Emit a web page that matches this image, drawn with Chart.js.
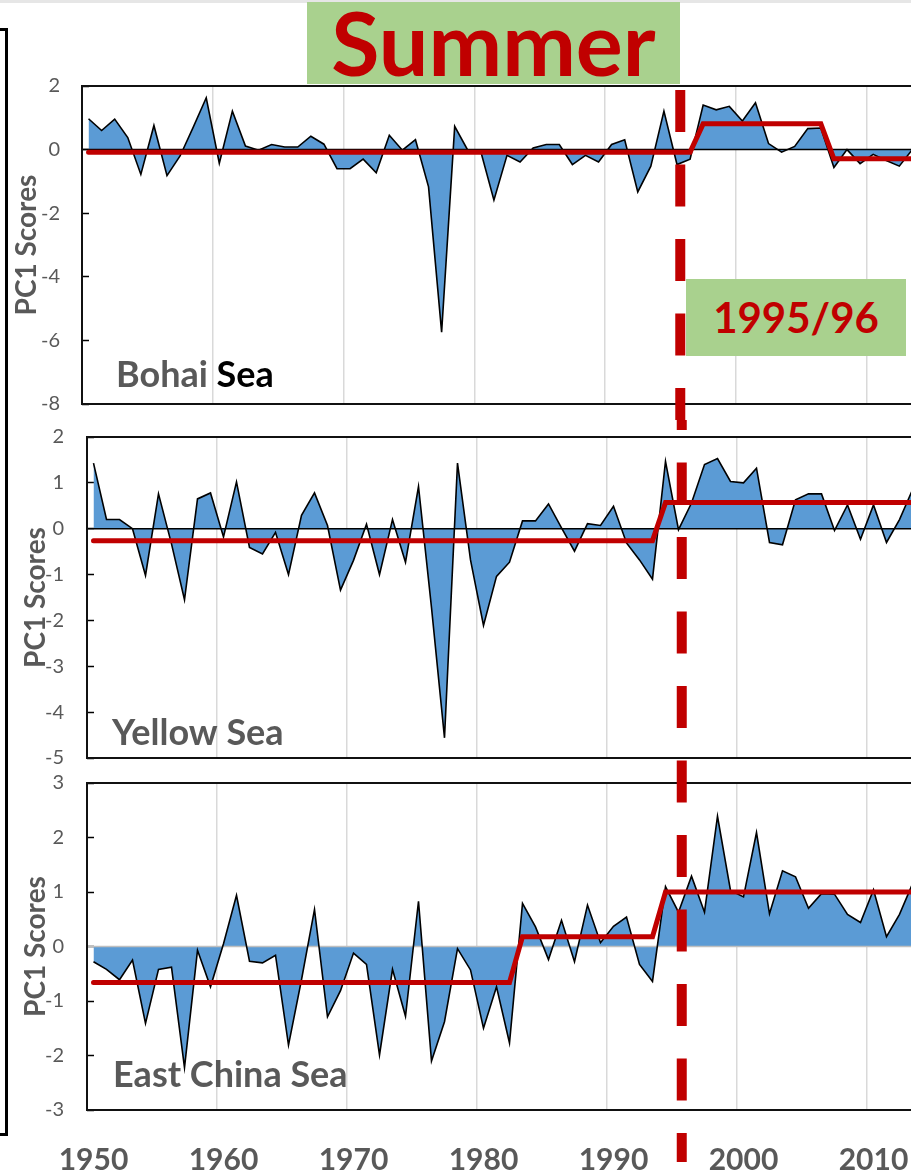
<!DOCTYPE html>
<html>
<head>
<meta charset="utf-8">
<script src="https://cdn.jsdelivr.net/npm/chart.js@4.4.0/dist/chart.umd.min.js"></script>
<style>
  html, body { margin: 0; padding: 0; background: #fff; }
  body { width: 911px; height: 1174px; overflow: hidden; position: relative; font-family: Lato, "Open Sans", sans-serif; }
  canvas { position: absolute; left: 0; }
  .box { position: absolute; background: #a9d18e; color: #c00000; font-weight: bold; text-align: center; white-space: nowrap; }
  #topStrip { position: absolute; left: 0; top: 0; width: 911px; height: 3px; background: #e6e6e6; }
  #edge { position: absolute; left: -4px; top: 28px; width: 6px; height: 1102px; border: 3px solid #000; }
</style>
</head>
<body>
<div id="topStrip"></div>
<canvas id="bohai" width="932" height="420" style="top:0"></canvas>
<canvas id="yellow" width="932" height="350" style="top:420px"></canvas>
<canvas id="eastChina" width="932" height="404" style="top:770px"></canvas>
<div id="edge"></div>
<div class="box" style="left:307px;top:2px;width:373px;height:82px;font-size:88px;line-height:80px;">Summer</div>
<div class="box" style="left:686px;top:279px;width:220px;height:77px;font-size:42px;line-height:77px;">1995/96</div>
<script>
// years of the PC1 time series
const years = [1950, 1951, 1952, 1953, 1954, 1955, 1956, 1957, 1958, 1959,
  1960, 1961, 1962, 1963, 1964, 1965, 1966, 1967, 1968, 1969,
  1970, 1971, 1972, 1973, 1974, 1975, 1976, 1977, 1978, 1979,
  1980, 1981, 1982, 1983, 1984, 1985, 1986, 1987, 1988, 1989,
  1990, 1991, 1992, 1993, 1994, 1995, 1996, 1997, 1998, 1999,
  2000, 2001, 2002, 2003, 2004, 2005, 2006, 2007, 2008, 2009,
  2010, 2011, 2012, 2013];

// PC1 scores (summer)
const bohaiScores = [0.97, 0.60, 0.96, 0.38, -0.78, 0.76, -0.82, -0.20, 0.70, 1.63,
  -0.43, 1.21, 0.11, -0.02, 0.16, 0.08, 0.08, 0.42, 0.17, -0.60,
  -0.60, -0.30, -0.73, 0.45, -0.02, 0.31, -1.17, -5.74, 0.73, -0.02,
  -0.07, -1.59, -0.18, -0.39, 0.05, 0.16, 0.16, -0.47, -0.18, -0.39,
  0.16, 0.31, -1.33, -0.52, 1.21, -0.47, -0.30, 1.40, 1.25, 1.36,
  0.90, 1.47, 0.19, -0.08, 0.10, 0.66, 0.68, -0.56, 0.00, -0.44,
  -0.15, -0.34, -0.52, 0.00];
const yellowScores = [1.43, 0.20, 0.20, 0.00, -1.02, 0.76, -0.33, -1.55, 0.65, 0.78,
  -0.18, 1.02, -0.41, -0.55, -0.08, -1.00, 0.29, 0.78, 0.07, -1.34,
  -0.69, 0.10, -1.00, 0.20, -0.73, 0.92, -1.72, -4.56, 1.43, -0.68,
  -2.11, -1.04, -0.73, 0.17, 0.17, 0.54, 0.02, -0.49, 0.11, 0.07,
  0.49, -0.31, -0.68, -1.10, 1.47, -0.02, 0.56, 1.40, 1.53, 1.03,
  1.00, 1.32, -0.30, -0.35, 0.63, 0.76, 0.76, -0.04, 0.52, -0.23,
  0.52, -0.30, 0.20, 0.85];
const eastChinaScores = [-0.28, -0.42, -0.61, -0.25, -1.41, -0.42, -0.38, -2.22, -0.07, -0.74,
  0.05, 0.94, -0.27, -0.30, -0.16, -1.81, -0.61, 0.68, -1.29, -0.81,
  -0.12, -0.33, -1.99, -0.42, -1.28, 0.83, -2.10, -1.38, -0.04, -0.43,
  -1.50, -0.74, -1.77, 0.79, 0.36, -0.24, 0.48, -0.28, 0.76, 0.07,
  0.37, 0.54, -0.33, -0.64, 1.10, 0.63, 1.29, 0.63, 2.39, 1.03,
  0.91, 2.09, 0.60, 1.39, 1.28, 0.70, 0.97, 0.96, 0.59, 0.44,
  1.04, 0.18, 0.59, 1.15];

// regime means (red step lines): vertex years and levels
const bohaiShiftYears = [1950, 1996, 1997, 2006, 2007, 2013];
const bohaiShiftMeans = [-0.08, -0.08, 0.81, 0.81, -0.29, -0.29];
const yellowShiftYears = [1950, 1993, 1994, 2013];
const yellowShiftMeans = [-0.26, -0.26, 0.57, 0.57];
const eastChinaShiftYears = [1950, 1982, 1983, 1993, 1994, 2013];
const eastChinaShiftMeans = [-0.66, -0.66, 0.18, 0.18, 1.00, 1.00];

const decadeLabels = [1950, 1960, 1970, 1980, 1990, 2000, 2010];
const shiftYear = 1995.25; // 1995/96 regime shift

const GREY = '#595959';
const RED = '#c00000';

// zero line, frame, sea name and the dashed shift line
const panelDecor = {
  id: 'panelDecor',
  beforeDatasetDraw(chart, args, opts) {
    if (args.index !== 0) return;
    const {ctx, chartArea: a, scales: {y}} = chart;
    const py = y.getPixelForValue(0);
    ctx.save();
    ctx.strokeStyle = opts.zeroColor;
    ctx.lineWidth = 1.5;
    ctx.beginPath();
    ctx.moveTo(a.left, py);
    ctx.lineTo(a.right, py);
    ctx.stroke();
    ctx.restore();
  },
  afterDatasetsDraw(chart, args, opts) {
    const {ctx, chartArea: a} = chart;
    ctx.save();
    ctx.strokeStyle = '#111';
    ctx.lineWidth = 2;
    ctx.strokeRect(a.left, a.top, a.right - a.left, a.bottom - a.top);
    // sea name
    ctx.font = 'bold 36px Lato';
    ctx.textBaseline = 'alphabetic';
    let x = opts.nameX;
    opts.name.forEach(part => {
      ctx.fillStyle = part.color;
      ctx.fillText(part.text, x, opts.nameY);
      x += ctx.measureText(part.text).width;
    });
    ctx.restore();
  },
  afterDraw(chart, args, opts) {
    const {ctx, scales: {x}} = chart;
    const px = x.getPixelForValue(shiftYear);
    ctx.save();
    ctx.strokeStyle = RED;
    ctx.lineWidth = 10;
    ctx.setLineDash([42, 32.5]);
    ctx.beginPath();
    ctx.moveTo(px, 90 - opts.top);
    ctx.lineTo(px, 1162 - opts.top);
    ctx.stroke();
    ctx.restore();
  }
};

function makePanel(id, p) {
  return new Chart(document.getElementById(id), {
    type: 'line',
    data: {
      datasets: [
        {
          data: years.map((yr, i) => ({x: yr, y: p.scores[i]})),
          borderColor: '#000',
          borderWidth: 1.6,
          backgroundColor: '#5b9bd5',
          fill: 'origin',
          pointRadius: 0,
          tension: 0,
          order: 2
        },
        {
          data: p.shiftYears.map((yr, i) => ({x: yr, y: p.shiftMeans[i]})),
          borderColor: RED,
          borderWidth: 5,
          borderCapStyle: 'round',
          fill: false,
          pointRadius: 0,
          tension: 0,
          order: 1
        }
      ]
    },
    options: {
      responsive: false,
      animation: false,
      events: [],
      layout: { padding: { top: p.areaTop, left: 0, right: 0, bottom: 0 } },
      plugins: {
        legend: { display: false },
        tooltip: { enabled: false },
        panelDecor: { top: p.top, zeroColor: p.zeroColor, name: p.name, nameX: p.nameX, nameY: p.nameY }
      },
      scales: {
        x: {
          type: 'linear',
          min: 1949.5,
          max: 2014.5,
          afterBuildTicks: s => { s.ticks = decadeLabels.map(v => ({value: v - 0.5})); },
          ticks: {
            display: p.showYears,
            autoSkip: false,
            maxRotation: 0,
            padding: 32,
            labelOffset: 6.5,
            color: GREY,
            font: { family: 'Lato', size: 30, weight: 'bold' },
            callback: v => String(v + 0.5)
          },
          grid: { color: '#d9d9d9', lineWidth: 1.5, drawTicks: false },
          border: { display: false },
          afterFit: s => {
            s.height = p.xHeight;
            s.paddingLeft = 0;
            s.paddingRight = 0;
          }
        },
        y: {
          min: p.yMin,
          max: p.yMax,
          ticks: {
            stepSize: p.yStep,
            padding: p.tickPad,
            color: GREY,
            font: { family: 'Lato', size: 20 }
          },
          grid: { drawOnChartArea: false, drawTicks: true, tickLength: -7, tickColor: '#000', tickWidth: 1.5 },
          border: { display: false },
          title: {
            display: true,
            text: 'PC1 Scores',
            color: GREY,
            font: { family: 'Lato', size: 28, weight: 'bold' },
            padding: { top: p.titlePad, bottom: 0 }
          },
          afterFit: s => {
            s.width = p.left;
            s.paddingTop = 0;
            s.paddingBottom = 0;
          }
        }
      }
    },
    plugins: [panelDecor]
  });
}

makePanel('bohai', {
  scores: bohaiScores, shiftYears: bohaiShiftYears, shiftMeans: bohaiShiftMeans,
  top: 0, areaTop: 86, xHeight: 16, left: 82, tickPad: 29, titlePad: 10,
  yMin: -8, yMax: 2, yStep: 2, zeroColor: '#000', showYears: false,
  name: [{text: 'Bohai ', color: GREY}, {text: 'Sea', color: '#000'}], nameX: 116, nameY: 387
});
makePanel('yellow', {
  scores: yellowScores, shiftYears: yellowShiftYears, shiftMeans: yellowShiftMeans,
  top: 420, areaTop: 17, xHeight: 12, left: 87, tickPad: 30, titlePad: 19,
  yMin: -5, yMax: 2, yStep: 1, zeroColor: '#000', showYears: false,
  name: [{text: 'Yellow Sea', color: GREY}], nameX: 112, nameY: 325
});
makePanel('eastChina', {
  scores: eastChinaScores, shiftYears: eastChinaShiftYears, shiftMeans: eastChinaShiftMeans,
  top: 770, areaTop: 13, xHeight: 64, left: 87, tickPad: 30, titlePad: 19,
  yMin: -3, yMax: 3, yStep: 1, zeroColor: '#bfbfbf', showYears: true,
  name: [{text: 'East China Sea', color: GREY}], nameX: 113, nameY: 317
});
</script>
</body>
</html>
